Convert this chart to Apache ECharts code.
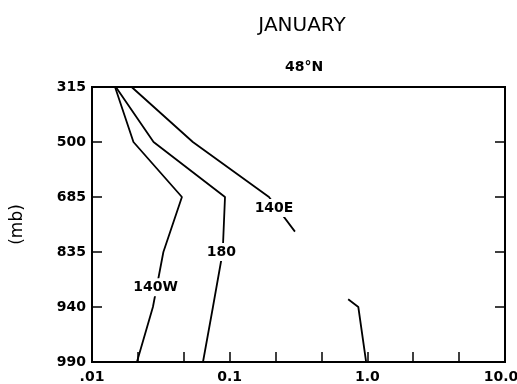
<!DOCTYPE html>
<html>
<head>
<meta charset="utf-8">
<script src="https://cdn.jsdelivr.net/npm/echarts@6/dist/echarts.min.js"></script>
<style>
  html, body { margin: 0; padding: 0; background: #fff; }
  #main { width: 517px; height: 384px; }
</style>
</head>
<body>
<div id="main"></div>
<script>
// pressure levels, top to bottom (y positions are the level index)
const levels = ['315', '500', '685', '835', '940', '990'];
const xTickLabels = ['.01', '0.1', '1.0', '10.0'];

// [value, level index]
const line140W = [[0.0147, 0], [0.020, 1], [0.045, 2], [0.033, 3], [0.0277, 4], [0.0212, 5]];
const line180 = [[0.0149, 0], [0.028, 1], [0.0925, 2], [0.089, 3], [0.0756, 4], [0.064, 5]];
const line140E = [[0.0194, 0], [0.054, 1], [0.193, 2], [0.298, 2.63]];
const lineRight = [[0.726, 3.86], [0.86, 4], [0.98, 5]];

// where the curve names sit
const label140W = [0.029, 3.64];
const label180 = [0.087, 3.0];
const label140E = [0.21, 2.2];

const FONT = 'DejaVu Sans';
const chart = echarts.init(document.getElementById('main'), null, { renderer: 'canvas' });

function tag(name, coord) {
  return {
    symbol: 'circle',
    symbolSize: 1,
    silent: true,
    itemStyle: { color: 'rgba(0,0,0,0)' },
    label: {
      show: true,
      formatter: name,
      position: 'inside',
      color: '#000',
      fontFamily: FONT,
      fontWeight: 'bold',
      fontSize: 14,
      backgroundColor: '#fff',
      padding: [2, 1]
    },
    data: [{ name: name, coord: coord }]
  };
}

function curve(name, data, coord) {
  const s = {
    name: name,
    type: 'line',
    data: data,
    symbol: 'none',
    lineStyle: { color: '#000', width: 1.8 },
    z: 2
  };
  if (coord) s.markPoint = tag(name, coord);
  return s;
}

chart.setOption({
  animation: false,
  title: [
    {
      text: 'JANUARY',
      left: 297,
      top: 11,
      textAlign: 'center',
      textStyle: { fontFamily: FONT, fontWeight: 'normal', fontSize: 20, color: '#000' }
    },
    {
      text: '48°N',
      left: 299,
      top: 55,
      textAlign: 'center',
      textStyle: { fontFamily: FONT, fontWeight: 'bold', fontSize: 14, color: '#000' }
    }
  ],
  grid: {
    left: 92,
    right: 12,
    top: 87,
    bottom: 22,
    outerBoundsMode: 'none',
    containLabel: false,
    show: true,
    borderColor: '#000',
    borderWidth: 2,
    backgroundColor: 'transparent'
  },
  xAxis: {
    type: 'log',
    logBase: Math.pow(10, 1 / 3),
    min: 0.01,
    max: 10,
    interval: 1,
    axisLine: { show: true, onZero: false, lineStyle: { color: '#000', width: 2 } },
    axisTick: { show: true, inside: true, length: 10, lineStyle: { color: '#000', width: 1.5 } },
    splitLine: { show: false },
    axisLabel: {
      margin: 8,
      color: '#000',
      fontFamily: FONT,
      fontWeight: 'bold',
      fontSize: 14,
      formatter: function (v) {
        const d = Math.log10(v);
        const r = Math.round(d);
        if (Math.abs(d - r) > 1e-6) return '';
        const txt = xTickLabels[r + 2];
        // last label sits a little left of its tick, as in the original
        return r + 2 === xTickLabels.length - 1 ? '{last|' + txt + '}' : txt;
      },
      rich: {
        last: {
          fontFamily: FONT,
          fontWeight: 'bold',
          fontSize: 14,
          color: '#000',
          padding: [0, 8, 0, 0]
        }
      }
    }
  },
  yAxis: [
    {
      type: 'value',
      inverse: true,
      min: 0,
      max: 5,
      interval: 1,
      name: '(mb)',
      nameLocation: 'middle',
      nameRotate: 90,
      nameGap: 66,
      nameTextStyle: { fontFamily: FONT, fontSize: 17, color: '#000' },
      axisLine: { show: true, onZero: false, lineStyle: { color: '#000', width: 2 } },
      axisTick: { show: true, inside: true, length: 10, lineStyle: { color: '#000', width: 1.5 } },
      splitLine: { show: false },
      axisLabel: {
        margin: 6,
        color: '#000',
        fontFamily: FONT,
        fontWeight: 'bold',
        fontSize: 14,
        formatter: function (v) { return levels[v] || ''; }
      }
    },
    {
      type: 'value',
      position: 'right',
      inverse: true,
      min: 0,
      max: 5,
      interval: 1,
      axisLine: { show: true, onZero: false, lineStyle: { color: '#000', width: 2 } },
      axisTick: { show: true, inside: true, length: 10, lineStyle: { color: '#000', width: 1.5 } },
      splitLine: { show: false },
      axisLabel: { show: false }
    }
  ],
  series: [
    curve('140W', line140W, label140W),
    curve('180', line180, label180),
    curve('140E', line140E, label140E),
    curve('right', lineRight, null)
  ]
});
</script>
</body>
</html>
